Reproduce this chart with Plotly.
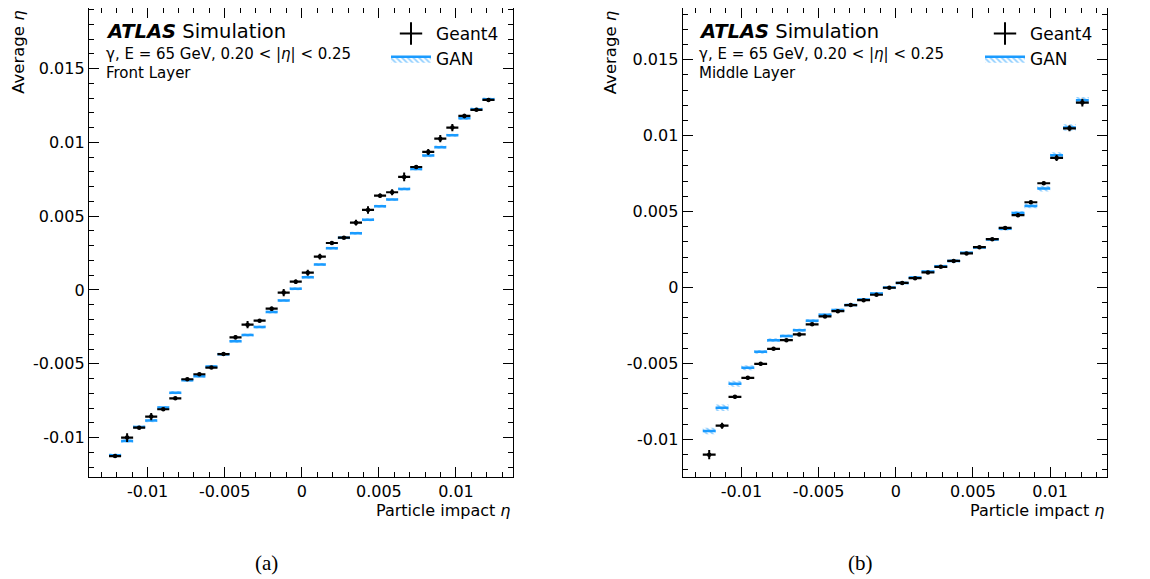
import numpy as np
import plotly.graph_objects as go

# ---------------- data (values in units of 1e-3) ----------------
ETA_LO, ETA_HI = -0.0125, 0.0125
UNIT = 1e-3

front_geant4 = [-11.25, -10.0, -9.33, -8.58, -8.08, -7.34, -6.05, -5.71, -5.26, -4.34,
                -3.21, -2.35, -2.08, -1.27, -0.18, 0.56, 1.17, 2.26, 3.18, 3.54,
                4.56, 5.42, 6.39, 6.62, 7.66, 8.33, 9.35, 10.25, 11.0, 11.79, 12.2, 12.87]
front_geant4_err = [0.1, 0.3, 0.1, 0.25, 0.1, 0.1, 0.1, 0.1, 0.1, 0.1,
                    0.15, 0.25, 0.1, 0.15, 0.25, 0.15, 0.2, 0.2, 0.12, 0.08,
                    0.2, 0.25, 0.15, 0.2, 0.3, 0.08, 0.2, 0.25, 0.25, 0.15, 0.1, 0.08]
front_gan = [-11.2, -10.23, -9.28, -8.85, -7.97, -6.96, -6.12, -5.85, -5.19, -4.36,
             -3.48, -3.05, -2.51, -1.49, -0.72, 0.08, 0.86, 1.72, 2.82, 3.54,
             3.84, 4.76, 5.67, 6.12, 6.84, 8.20, 9.10, 9.67, 10.48, 11.63, 12.24, 12.92]
front_gan_err = [0.12, 0.12, 0.11, 0.11, 0.11, 0.11, 0.1, 0.1, 0.1, 0.1,
                 0.1, 0.1, 0.1, 0.1, 0.1, 0.1, 0.1, 0.1, 0.1, 0.1,
                 0.1, 0.1, 0.1, 0.1, 0.1, 0.11, 0.11, 0.11, 0.11, 0.11, 0.12, 0.12]

middle_geant4 = [-11.01, -9.10, -7.20, -5.95, -5.03, -4.04, -3.47, -3.09, -2.43, -1.91,
                 -1.56, -1.16, -0.84, -0.48, -0.02, 0.30, 0.61, 0.99, 1.36, 1.75,
                 2.24, 2.65, 3.18, 3.92, 4.76, 5.61, 6.86, 8.53, 10.48, 12.17]
middle_geant4_err = [0.3, 0.2, 0.12, 0.12, 0.12, 0.1, 0.1, 0.1, 0.1, 0.1,
                     0.1, 0.1, 0.08, 0.08, 0.08, 0.08, 0.08, 0.08, 0.08, 0.08,
                     0.08, 0.1, 0.1, 0.1, 0.12, 0.12, 0.12, 0.2, 0.2, 0.25]
middle_gan = [-9.45, -7.92, -6.34, -5.29, -4.24, -3.47, -3.20, -2.81, -2.20, -1.80,
              -1.49, -1.16, -0.79, -0.40, 0.0, 0.30, 0.66, 1.05, 1.40, 1.75,
              2.28, 2.63, 3.16, 3.86, 4.91, 5.37, 6.51, 8.70, 10.53, 12.32]
middle_gan_err = [0.22, 0.21, 0.2, 0.16, 0.13, 0.12, 0.11, 0.1, 0.1, 0.1,
                  0.1, 0.1, 0.1, 0.1, 0.1, 0.1, 0.1, 0.1, 0.1, 0.1,
                  0.1, 0.1, 0.1, 0.11, 0.13, 0.15, 0.19, 0.21, 0.22, 0.22]

x_tick_vals = [-0.01, -0.005, 0, 0.005, 0.01]
x_tick_text = ["-0.01", "-0.005", "0", "0.005", "0.01"]
y_tick_vals = [-0.01, -0.005, 0, 0.005, 0.01, 0.015]
y_tick_text = ["-0.01", "-0.005", "0", "0.005", "0.01", "0.015"]

layer_names = ["Front Layer", "Middle Layer"]
header_text = "γ, E = 65 GeV, 0.20 &lt; |<i>η</i>| &lt; 0.25"
panel_labels = ["(a)", "(b)"]

# ---------------- style / geometry ----------------
BLUE = "#1a9bff"
FONT = "DejaVu Sans"
OFF = 8                 # page body margin
FW, FH = 1150 - OFF, 579 - OFF


def px(x):
    return (x - OFF) / FW


def py(y):
    return 1 - (y - OFF) / FH


fig = go.Figure()


def add_panel(idx, geant, geant_err, gan, gan_err, legend):
    n = len(geant)
    edges = np.linspace(ETA_LO, ETA_HI, n + 1)
    xs = 0.5 * (edges[:-1] + edges[1:])
    bw = edges[1] - edges[0]
    g = np.array(geant) * UNIT
    ge = np.array(geant_err) * UNIT
    a = np.array(gan) * UNIT
    ae = np.array(gan_err) * UNIT
    xa = "x" if idx == 0 else "x2"
    ya = "y" if idx == 0 else "y2"

    # GAN hatched uncertainty band
    fig.add_trace(go.Bar(
        x=xs, y=2 * ae, base=a - ae, width=bw, xaxis=xa, yaxis=ya,
        marker=dict(color="rgba(0,0,0,0)", line=dict(width=0),
                    pattern=dict(shape="\\", fgcolor=BLUE, bgcolor="rgba(0,0,0,0)",
                                 size=4, solidity=0.45)),
        showlegend=False, hoverinfo="skip"))

    # GAN central values (horizontal segments) + legend entry
    lx, ly = [], []
    for c, v in zip(xs, a):
        lx += [c - bw / 2, c + bw / 2, None]
        ly += [v, v, None]
    fig.add_trace(go.Scatter(
        x=lx, y=ly, mode="lines", xaxis=xa, yaxis=ya,
        line=dict(color=BLUE, width=2.5),
        fill="toself", fillcolor="rgba(0,0,0,0)",
        fillpattern=dict(shape="\\", fgcolor=BLUE, bgcolor="rgba(0,0,0,0)",
                         size=4, solidity=0.45),
        name="GAN", legend=legend, legendrank=2, hoverinfo="skip"))

    # Geant4 points
    fig.add_trace(go.Scatter(
        x=xs, y=g, mode="markers", xaxis=xa, yaxis=ya,
        marker=dict(color="black", size=4.5),
        error_x=dict(type="data", array=np.full(n, bw / 2), color="black",
                     thickness=2.2, width=0),
        error_y=dict(type="data", array=ge, color="black", thickness=2, width=0),
        showlegend=False))
    # legend entry for Geant4
    fig.add_trace(go.Scatter(
        x=[None], y=[None], mode="markers", xaxis=xa, yaxis=ya,
        marker=dict(symbol="cross-thin", size=16, color="black",
                    line=dict(width=2, color="black")),
        name="Geant4", legend=legend, legendrank=1))


add_panel(0, front_geant4, front_geant4_err, front_gan, front_gan_err, "legend")
add_panel(1, middle_geant4, middle_geant4_err, middle_gan, middle_gan_err, "legend2")

axis_common = dict(
    ticks="inside", ticklen=10, tickwidth=1.2, tickcolor="black",
    showline=True, linecolor="black", linewidth=1.3, mirror="ticks",
    showgrid=False, zeroline=False,
    tickfont=dict(family=FONT, size=16, color="black"),
    minor=dict(ticks="inside", ticklen=5, tickwidth=1, tickcolor="black",
               tickmode="linear", tick0=0, dtick=0.001, showgrid=False),
)

y_dom = [py(476.7), py(8)]
fig.update_layout(
    width=FW, height=FH, margin=dict(l=0, r=0, t=0, b=0),
    paper_bgcolor="white", plot_bgcolor="white", barmode="overlay",
    font=dict(family=FONT, color="black"),
    xaxis=dict(domain=[px(89), px(513)], range=[-0.0138, 0.0137], anchor="y",
               tickmode="array", tickvals=x_tick_vals, ticktext=x_tick_text, **axis_common),
    yaxis=dict(domain=y_dom, range=[-0.01265, 0.0191], anchor="x",
               tickmode="array", tickvals=y_tick_vals, ticktext=y_tick_text, **axis_common),
    xaxis2=dict(domain=[px(682.7), px(1107.3)], range=[-0.0138, 0.0137], anchor="y2",
                tickmode="array", tickvals=x_tick_vals, ticktext=x_tick_text, **axis_common),
    yaxis2=dict(domain=y_dom, range=[-0.01246, 0.0184], anchor="x2",
                tickmode="array", tickvals=y_tick_vals, ticktext=y_tick_text, **axis_common),
    legend=dict(x=px(386), y=py(16), xanchor="left", yanchor="top",
                bgcolor="rgba(0,0,0,0)", itemwidth=40,
                font=dict(family=FONT, size=17, color="black")),
    legend2=dict(x=px(980), y=py(16), xanchor="left", yanchor="top",
                 bgcolor="rgba(0,0,0,0)", itemwidth=40,
                 font=dict(family=FONT, size=17, color="black")),
)

annotations = []
panel_right = [513, 1107.3]
text_x = [104, 697.3]
ytitle_x = [18.3, 610.7]
caption_x = [266.7, 860.7]
for i in range(2):
    annotations.append(dict(
        x=px(text_x[i]), y=py(32), xref="paper", yref="paper",
        xanchor="left", yanchor="middle", showarrow=False,
        text="<b><i>ATLAS</i></b> Simulation",
        font=dict(family=FONT, size=19.5, color="black")))
    annotations.append(dict(
        x=px(text_x[i]), y=py(54), xref="paper", yref="paper",
        xanchor="left", yanchor="middle", showarrow=False,
        text=header_text, font=dict(family=FONT, size=15, color="black")))
    annotations.append(dict(
        x=px(text_x[i]), y=py(73), xref="paper", yref="paper",
        xanchor="left", yanchor="middle", showarrow=False,
        text=layer_names[i], font=dict(family=FONT, size=15, color="black")))
    annotations.append(dict(
        x=px(ytitle_x[i]), y=py(9), xref="paper", yref="paper",
        xanchor="center", yanchor="top", showarrow=False, textangle=-90,
        text="Average <i>η</i>", font=dict(family=FONT, size=16.5, color="black")))
    annotations.append(dict(
        x=px(panel_right[i]), y=py(510), xref="paper", yref="paper",
        xanchor="right", yanchor="middle", showarrow=False,
        text="Particle impact <i>η</i>", font=dict(family=FONT, size=16, color="black")))
    annotations.append(dict(
        x=px(caption_x[i]), y=py(563),
        xref="paper", yref="paper", xanchor="center", yanchor="middle",
        showarrow=False, text=panel_labels[i],
        font=dict(family="Liberation Serif", size=21, color="black")))
fig.update_layout(annotations=annotations)

fig.write_html("out.html")
